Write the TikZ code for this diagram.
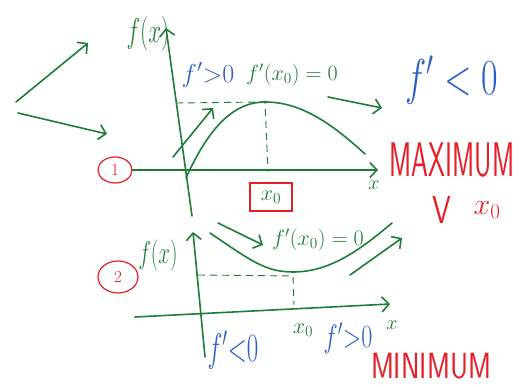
\RequirePackage{fix-cm}
\documentclass[tikz,border=0pt]{standalone}
\usepackage{amsmath}
\usetikzlibrary{arrows.meta, shapes.geometric}

\definecolor{pengreen}{RGB}{30,125,55}
\definecolor{penblue}{RGB}{45,95,195}
\definecolor{penred}{RGB}{230,30,40}

\begin{document}
\begin{tikzpicture}[x=1pt, y=-1pt, >={Straight Barb[length=7pt, width=15pt]},
  pen/.style={pengreen, line width=1.6pt, line cap=round, line join=round},
  guide/.style={pengreen, line width=0.9pt, dash pattern=on 7pt off 5pt},
  every node/.style={inner sep=0pt},
  grn/.style={text=pengreen, font=\fontsize{#1}{#1}\selectfont},
  blu/.style={text=penblue, font=\fontsize{#1}{#1}\selectfont},
  rd/.style={text=penred, font=\sffamily\fontsize{#1}{#1}\selectfont},
  tag/.style={ellipse, draw=penred, line width=1.2pt, text=penred, font=\fontsize{17}{17}\selectfont}]
\useasboundingbox (0,0) rectangle (527,387);

% arrows on the left
\coordinate (up1) at (16,102);
\coordinate (up2) at (88,43);
\coordinate (dn1) at (18,113);
\coordinate (dn2) at (107,134);
\draw[pen,->] (up1) -- (up2);
\draw[pen,->] (dn1) -- (dn2);

% first graph: maximum
\node[tag, minimum width=34pt, minimum height=26pt] (c1) at (115,170) {$1$};
\coordinate (o1b) at (192,216);
\coordinate (o1t) at (166,28);
\coordinate (x1e) at (378,170);
\draw[pen,->] (o1b) -- (o1t);
\draw[pen,->] (c1.east) -- (x1e);
\node[grn=23] (fx1) at (148,34) {\scalebox{1}[1.5]{$f(x)$}};
\node[grn=20] (xl1) at (374,185) {$x$};

\coordinate (pk1) at (265,102);
\coordinate (d1a) at (176,103);
\coordinate (d1b) at (268,172);
\coordinate (e1a) at (186,178);
\coordinate (e1b) at (365,154);
\draw[guide] (d1a) -- (pk1) -- (d1b);
\draw[pen] (e1a) .. controls (210,125) and (235,102) .. (pk1) .. controls (300,102) and (330,122) .. (e1b);

\coordinate (t1a) at (173,157);
\coordinate (t1b) at (213,108);
\draw[pen,->] (t1a) -- (t1b);
\coordinate (r1a) at (328,97);
\coordinate (r1b) at (382,108);
\draw[pen,->] (r1a) -- (r1b);

\node[draw=penred, line width=1.3pt, minimum width=42pt, minimum height=28pt, grn=22] (box) at (271,197) {$x_0$};
\node[blu=26] (pos1) at (208,75) {$f'{>}0$};
\node[grn=22] (zero1) at (292,75) {$f'(x_0)=0$};
\node[blu=36] (neg1) at (452,80) {\scalebox{1}[1.4]{$f'<0$}};
\node[rd=27] (max) at (452,160) {\scalebox{1}[1.8]{MAXIMUM}};
\node[rd=30] (vee) at (442,210) {\scalebox{1}[1.3]{V}};
\node[text=penred, font=\fontsize{30}{30}\selectfont] (x0r) at (487,210) {$x_0$};

% second graph: minimum
\node[tag, minimum width=40pt, minimum height=32pt] (c2) at (118,277) {$2$};
\node[grn=21] (fx2) at (158,256) {\scalebox{1}[1.5]{$f(x)$}};
\coordinate (o2b) at (205,357);
\coordinate (o2t) at (193,232);
\coordinate (x2a) at (135,317);
\coordinate (x2e) at (390,304);
\draw[pen,->] (o2b) -- (o2t);
\draw[pen,->] (x2a) -- (x2e);
\node[grn=20] (xl2) at (392,325) {$x$};

\coordinate (mn2) at (293,276);
\coordinate (d2a) at (198,275);
\coordinate (d2b) at (294,305);
\coordinate (lo2) at (293,272);
\coordinate (e2a) at (210,233);
\coordinate (e2b) at (392,223);
\draw[guide] (d2a) -- (mn2) -- (d2b);
\draw[pen] (e2a) .. controls (250,260) and (265,272) .. (lo2) .. controls (330,272) and (360,250) .. (e2b);

\coordinate (t2a) at (218,223);
\coordinate (t2b) at (263,245);
\draw[pen,->] (t2a) -- (t2b);
\coordinate (r2a) at (350,275);
\coordinate (r2b) at (402,238);
\draw[pen,->] (r2a) -- (r2b);

\node[grn=22] (zero2) at (318,240) {$f'(x_0)=0$};
\node[blu=25] (neg2) at (233,350) {\scalebox{1}[1.6]{$f'{<}0$}};
\node[grn=22] (x0g) at (303,330) {$x_0$};
\node[blu=24] (pos2) at (348,338) {\scalebox{1}[1.35]{$f'{>}0$}};
\node[rd=28] (min) at (431,366) {\scalebox{1}[1.3]{MINIMUM}};
\end{tikzpicture}
\end{document}
